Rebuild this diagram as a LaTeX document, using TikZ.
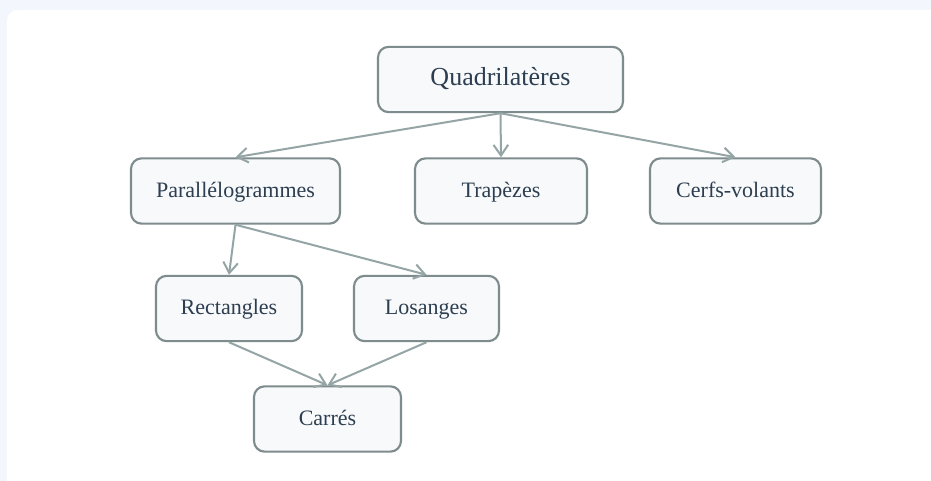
\documentclass[tikz,border=0pt]{standalone}
\usepackage{fontspec}
\setmainfont{Liberation Serif}
\usetikzlibrary{arrows.meta}
\definecolor{outerbg}{HTML}{F3F6FC}
\definecolor{boxfill}{HTML}{F8F9FB}
\definecolor{boxline}{HTML}{7F8C8D}
\definecolor{arrowc}{HTML}{95A5A6}
\definecolor{txt}{HTML}{2C3E50}
\tikzset{
  qbox/.style={draw=boxline, fill=boxfill, line width=1.6pt, rounded corners=8pt,
    text=txt, inner sep=0pt, text height=0.92em, text depth=0pt},
  topbox/.style={qbox, minimum width=183.75pt, minimum height=49pt, font=\fontsize{19.5}{23}\selectfont},
  subbox/.style={qbox, minimum height=49pt, font=\fontsize{16.5}{20}\selectfont},
  conn/.style={draw=arrowc, line width=1.5pt, -{Straight Barb[length=8pt,width=11pt,line width=1.5pt]}}
}
\begin{document}
\begin{tikzpicture}[x=0.75pt,y=-0.75pt]
\useasboundingbox (0,0) rectangle (931,481);
\clip (0,0) rectangle (931,481);
\fill[outerbg] (0,0) rectangle (931,481);
\fill[white, rounded corners=8pt] (7,10) rectangle (960,510);

\node[topbox] (quad) at (500.5,79.5) {Quadrilatères};
\node[subbox, minimum width=156.75pt] (para) at (235.5,191) {Parallélogrammes};
\node[subbox, minimum width=129pt] (trap) at (501,191) {Trapèzes};
\node[subbox, minimum width=128.25pt] (cerf) at (735.5,191) {Cerfs-volants};
\node[subbox, minimum width=109.5pt] (rect) at (229,308.5) {Rectangles};
\node[subbox, minimum width=108.75pt] (los) at (426.5,308.5) {Losanges};
\node[subbox, minimum width=110.25pt] (carr) at (327.5,419) {Carrés};

\draw[conn] (quad.south) -- (para.north);
\draw[conn] (quad.south) -- (trap.north);
\draw[conn] (quad.south) -- (cerf.north);
\draw[conn] (para.south) -- (rect.north);
\draw[conn] (para.south) -- (los.north);
\draw[conn] (rect.south) -- (carr.north);
\draw[conn] (los.south) -- (carr.north);
\end{tikzpicture}
\end{document}
